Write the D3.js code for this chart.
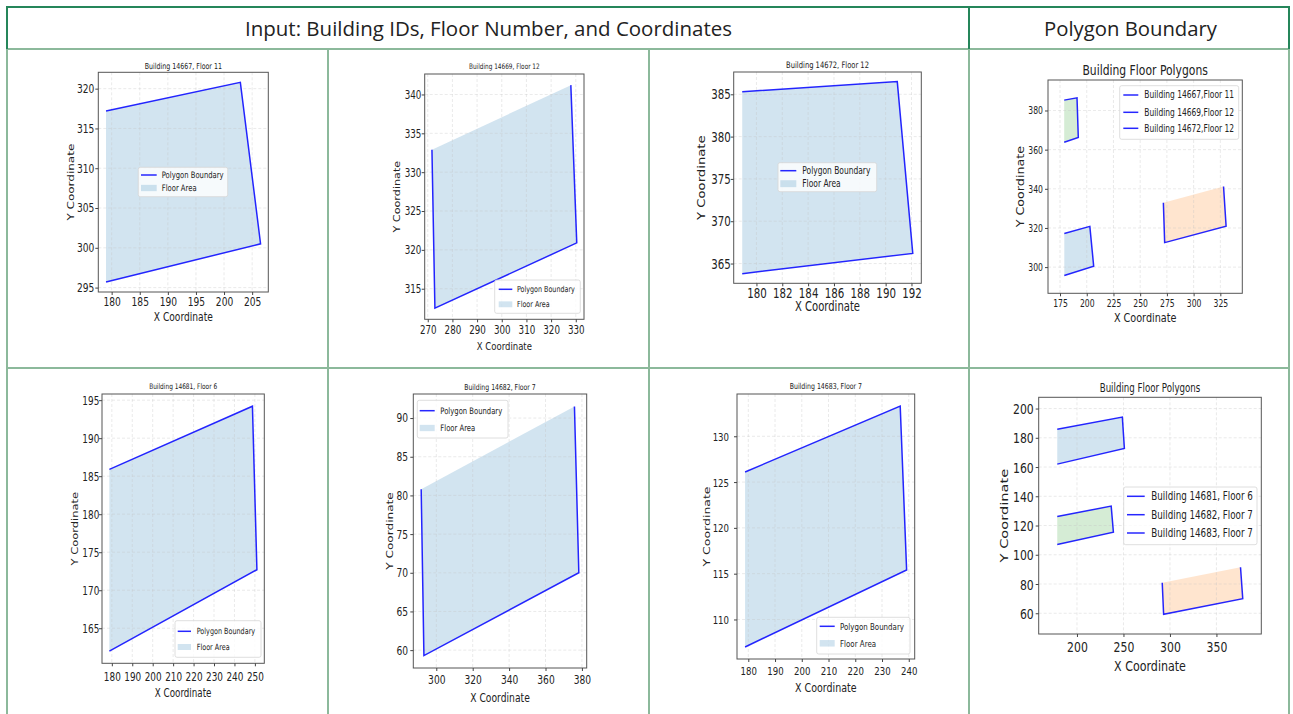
<!DOCTYPE html>
<html>
<head>
<meta charset="utf-8">
<script src="https://cdn.jsdelivr.net/npm/d3@7"></script>
<style>
  body { margin: 0; background: #fff; }
  svg { display: block; }
</style>
</head>
<body>
<svg id="fig" width="1293" height="714"></svg>
<script>
// ---- floor footprints (vertex order as surveyed) ----
const b14667X = [179.0, 202.9, 206.5, 179.0];
const b14667Y = [317.2, 320.8, 300.5, 295.7];
const b14669X = [271.7, 272.9, 330.4, 328.0];
const b14669Y = [332.9, 312.5, 320.9, 341.2];
const b14672X = [178.9, 190.9, 192.1, 178.9];
const b14672Y = [385.3, 386.5, 366.2, 363.8];
const b14681X = [178.8, 248.8, 251.0, 178.8];
const b14681Y = [185.9, 194.2, 172.7, 162.0];
const b14682X = [291.7, 293.2, 378.3, 375.9];
const b14682Y = [80.8, 59.3, 70.0, 91.5];
const b14683X = [178.8, 236.8, 239.2, 178.8];
const b14683Y = [126.1, 133.3, 115.4, 107.0];

const buildingIds = ["14667", "14669", "14672", "14681", "14682", "14683"];
const floorNumbers = [11, 12, 12, 6, 7, 7];

// ---- tick labels ----
const xTicks14667 = [180, 185, 190, 195, 200, 205];
const yTicks14667 = [295, 300, 305, 310, 315, 320];
const xTicks14669 = [270, 280, 290, 300, 310, 320, 330];
const yTicks14669 = [315, 320, 325, 330, 335, 340];
const xTicks14672 = [180, 182, 184, 186, 188, 190, 192];
const yTicks14672 = [365, 370, 375, 380, 385];
const xTicksTopAll = [175, 200, 225, 250, 275, 300, 325];
const yTicksTopAll = [300, 320, 340, 360, 380];
const xTicks14681 = [180, 190, 200, 210, 220, 230, 240, 250];
const yTicks14681 = [165, 170, 175, 180, 185, 190, 195];
const xTicks14682 = [300, 320, 340, 360, 380];
const yTicks14682 = [60, 65, 70, 75, 80, 85, 90];
const xTicks14683 = [180, 190, 200, 210, 220, 230, 240];
const yTicks14683 = [110, 115, 120, 125, 130];
const xTicksBottomAll = [200, 250, 300, 350];
const yTicksBottomAll = [60, 80, 100, 120, 140, 160, 180, 200];

const singleLegend = ["Polygon Boundary", "Floor Area"];
const topLegend = ["Building 14667,Floor 11", "Building 14669,Floor 12", "Building 14672,Floor 12"];
const bottomLegend = ["Building 14681, Floor 6", "Building 14682, Floor 7", "Building 14683, Floor 7"];

const headerLeft = "Input: Building IDs, Floor Number, and Coordinates";
const headerRight = "Polygon Boundary";

// ---- assemble ----
const footprints = {
  "14667": { x: b14667X, y: b14667Y },
  "14669": { x: b14669X, y: b14669Y },
  "14672": { x: b14672X, y: b14672Y },
  "14681": { x: b14681X, y: b14681Y },
  "14682": { x: b14682X, y: b14682Y },
  "14683": { x: b14683X, y: b14683Y }
};
const floorOf = id => floorNumbers[buildingIds.indexOf(id)];

const panels = [
  { ids: ["14667"], xTicks: xTicks14667, yTicks: yTicks14667, pad: 0.05, legend: singleLegend,
    box: { l: 98.3, t: 72.3, r: 268.3, b: 292 }, titleY: 65.7, titleSize: 8.3, tick: 12, label: 12,
    xTickY: 9.7, xLabelY: 316.7, yLabelX: 70.7, yPad: 4,
    lg: { x: 138.3, y: 167.3, w: 89.4, h: 29.4, rows: [175, 188], lx: [141, 156.7], tx: 161.7, size: 9 } },
  { ids: ["14669"], xTicks: xTicks14669, yTicks: yTicks14669, pad: 0.05, legend: singleLegend,
    box: { l: 424.7, t: 74, r: 584, b: 319.3 }, titleY: 66.7, titleSize: 7.6, tick: 11.5, label: 11.2,
    xTickY: 10.7, xLabelY: 345.7, yLabelX: 397, yPad: 3.4,
    lg: { x: 494.7, y: 280, w: 85.6, h: 33.3, rows: [289.3, 304.3], lx: [498.7, 512.3], tx: 517, size: 8.4 } },
  { ids: ["14672"], xTicks: xTicks14672, yTicks: yTicks14672, pad: 0.05, legend: singleLegend,
    box: { l: 733.7, t: 72, r: 921.3, b: 283.3 }, titleY: 65, titleSize: 8.9, tick: 13.5, label: 13.2,
    xTickY: 10, xLabelY: 306.7, yLabelX: 701.3, yPad: 3,
    lg: { x: 778, y: 162.7, w: 98.7, h: 29, rows: [170.7, 183.7], lx: [780.3, 796.3], tx: 802.3, size: 9.9 } },
  { ids: ["14667", "14669", "14672"], xTicks: xTicksTopAll, yTicks: yTicksTopAll, pad: 0.10, legend: topLegend,
    box: { l: 1048, t: 80, r: 1242.3, b: 293.3 }, titleY: 70, titleSize: 14.2, tick: 10.1, label: 12.7,
    xTickY: 10, xLabelY: 318.3, yLabelX: 1021.3, yPad: 5,
    lg: { x: 1119.7, y: 85.7, w: 119, h: 53.6, rows: [95, 112.3, 128.3], lx: [1123.3, 1138.3], tx: 1144.3, size: 9.9 } },
  { ids: ["14681"], xTicks: xTicks14681, yTicks: yTicks14681, pad: 0.05, legend: singleLegend,
    box: { l: 102, t: 394, r: 264.3, b: 663.3 }, titleY: 386.3, titleSize: 7.7, tick: 11.7, label: 11.5,
    xTickY: 13, xLabelY: 693, yLabelX: 75, yPad: 2.7,
    lg: { x: 175, y: 620.7, w: 86, h: 36.6, rows: [631.3, 647], lx: [177.7, 191], tx: 196.7, size: 8.5 } },
  { ids: ["14682"], xTicks: xTicks14682, yTicks: yTicks14682, pad: 0.05, legend: singleLegend,
    box: { l: 413.3, t: 394, r: 586.7, b: 668 }, titleY: 387, titleSize: 8.1, tick: 12, label: 12.1,
    xTickY: 12.3, xLabelY: 698, yLabelX: 389.7, yPad: 5.3,
    lg: { x: 417.3, y: 400.3, w: 90.7, h: 37.7, rows: [410.7, 428], lx: [419.7, 434.7], tx: 440.3, size: 9 } },
  { ids: ["14683"], xTicks: xTicks14683, yTicks: yTicks14683, pad: 0.05, legend: singleLegend,
    box: { l: 737, t: 394, r: 914.7, b: 659 }, titleY: 386.3, titleSize: 8.2, tick: 11.3, label: 12.5,
    xTickY: 12.3, xLabelY: 688, yLabelX: 707.3, yPad: 8,
    lg: { x: 816.7, y: 617.3, w: 93.3, h: 36.7, rows: [626.3, 643.3], lx: [819.7, 834.7], tx: 840, size: 9.3 } },
  { ids: ["14681", "14682", "14683"], xTicks: xTicksBottomAll, yTicks: yTicksBottomAll, pad: 0.10, legend: bottomLegend,
    box: { l: 1038.7, t: 397.3, r: 1261.3, b: 634 }, titleY: 388, titleSize: 11.4, tick: 14.3, label: 14.6,
    xTickY: 13.3, xLabelY: 665.7, yLabelX: 1004, yPad: 5,
    lg: { x: 1123.7, y: 487, w: 133.3, h: 57.7, rows: [496.3, 514.7, 533], lx: [1127, 1144.7], tx: 1151.3, size: 11.5 } }
];

const K = 0.76;                 // horizontal squeeze of the plot lettering
const FONT = "DejaVu Sans";
const fillColors = d3.schemeCategory10;
const svg = d3.select("#fig");

svg.append("rect").attr("width", 1293).attr("height", 714).attr("fill", "#fff");

function label(parent, x, y, str, size, anchor, rotate) {
  return parent.append("text")
    .attr("transform", `translate(${x},${y}) scale(${K},1)` + (rotate ? " rotate(-90)" : ""))
    .attr("text-anchor", anchor || "middle")
    .attr("dominant-baseline", "central")
    .attr("font-family", FONT)
    .attr("font-size", size)
    .attr("fill", "#222")
    .text(str);
}

function padded(values, frac) {
  const [lo, hi] = d3.extent(values);
  const m = (hi - lo) * frac;
  return [lo - m, hi + m];
}

function drawPanel(p) {
  const g = svg.append("g");
  const shapes = p.ids.map(id => footprints[id]);
  const allX = shapes.flatMap(s => s.x);
  const allY = shapes.flatMap(s => s.y);
  const x = d3.scaleLinear().domain(padded(allX, p.pad)).range([p.box.l, p.box.r]);
  const y = d3.scaleLinear().domain(padded(allY, p.pad)).range([p.box.b, p.box.t]);
  const single = p.ids.length === 1;

  // floor areas
  shapes.forEach((s, i) => {
    const pts = s.x.map((v, k) => [x(v), y(s.y[k])]);
    g.append("path")
      .attr("d", d3.line()(pts) + "Z")
      .attr("fill", fillColors[i])
      .attr("fill-opacity", 0.2);
  });

  // dashed grid
  const gridStyle = sel => sel
    .attr("stroke", "#c4c4c4").attr("stroke-opacity", 0.6)
    .attr("stroke-width", 0.6).attr("stroke-dasharray", "3,2");
  g.selectAll(null).data(p.xTicks).join("line")
    .attr("x1", d => x(d)).attr("x2", d => x(d))
    .attr("y1", p.box.t).attr("y2", p.box.b)
    .call(gridStyle);
  g.selectAll(null).data(p.yTicks).join("line")
    .attr("y1", d => y(d)).attr("y2", d => y(d))
    .attr("x1", p.box.l).attr("x2", p.box.r)
    .call(gridStyle);

  // boundaries (open polyline through the vertices)
  shapes.forEach(s => {
    const pts = s.x.map((v, k) => [x(v), y(s.y[k])]);
    g.append("path")
      .attr("d", d3.line()(pts))
      .attr("fill", "none")
      .attr("stroke", "#0000ff")
      .attr("stroke-opacity", 0.85)
      .attr("stroke-width", 1.5);
  });

  // frame
  g.append("rect")
    .attr("x", p.box.l).attr("y", p.box.t)
    .attr("width", p.box.r - p.box.l).attr("height", p.box.b - p.box.t)
    .attr("fill", "none").attr("stroke", "#555").attr("stroke-width", 1);

  // axes
  const ax = g.append("g").attr("transform", `translate(0,${p.box.b})`)
    .call(d3.axisBottom(x).tickValues(p.xTicks).tickSize(3).tickSizeOuter(0));
  ax.select(".domain").remove();
  ax.selectAll("line").attr("stroke", "#444");
  ax.selectAll("text")
    .attr("y", p.xTickY).attr("dy", 0)
    .attr("dominant-baseline", "central")
    .attr("transform", `scale(${K},1)`)
    .attr("font-family", FONT).attr("font-size", p.tick).attr("fill", "#222");

  const ay = g.append("g").attr("transform", `translate(${p.box.l},0)`)
    .call(d3.axisLeft(y).tickValues(p.yTicks).tickSize(3).tickSizeOuter(0));
  ay.select(".domain").remove();
  ay.selectAll("line").attr("stroke", "#444");
  ay.selectAll("text")
    .attr("x", -p.yPad / K).attr("dy", 0)
    .attr("dominant-baseline", "central")
    .attr("transform", `scale(${K},1)`)
    .attr("font-family", FONT).attr("font-size", p.tick).attr("fill", "#222");

  // titles and axis labels
  const cx = (p.box.l + p.box.r) / 2;
  const cy = (p.box.t + p.box.b) / 2;
  const title = single ? `Building ${p.ids[0]}, Floor ${floorOf(p.ids[0])}` : "Building Floor Polygons";
  label(g, cx, p.titleY, title, p.titleSize);
  label(g, cx, p.xLabelY, "X Coordinate", p.label);
  label(g, p.yLabelX, cy, "Y Coordinate", p.label, "middle", true);

  // legend
  const lg = p.lg;
  g.append("rect")
    .attr("x", lg.x).attr("y", lg.y).attr("width", lg.w).attr("height", lg.h)
    .attr("rx", 2).attr("fill", "#fff").attr("fill-opacity", 0.8)
    .attr("stroke", "#d6d6d6").attr("stroke-width", 0.8);
  p.legend.forEach((txt, i) => {
    const ry = lg.rows[i];
    if (single && i === 1) {
      const h = lg.size * 0.7;
      g.append("rect")
        .attr("x", lg.lx[0]).attr("y", ry - h / 2)
        .attr("width", lg.lx[1] - lg.lx[0]).attr("height", h)
        .attr("fill", fillColors[0]).attr("fill-opacity", 0.2);
    } else {
      g.append("line")
        .attr("x1", lg.lx[0]).attr("x2", lg.lx[1]).attr("y1", ry).attr("y2", ry)
        .attr("stroke", "#0000ff").attr("stroke-opacity", 0.85).attr("stroke-width", 1.5);
    }
    label(g, lg.tx, ry, txt, lg.size, "start");
  });
}

panels.forEach(drawPanel);

// ---- table frame ----
const light = "#8cb99b", dark = "#25865a";
const tbl = svg.append("g");
[7, 328, 649, 969, 1289].forEach(xv => {
  tbl.append("line").attr("x1", xv).attr("x2", xv).attr("y1", 49).attr("y2", 714)
    .attr("stroke", light).attr("stroke-width", 2);
});
[49, 368].forEach(yv => {
  tbl.append("line").attr("x1", 7).attr("x2", 1289).attr("y1", yv).attr("y2", yv)
    .attr("stroke", light).attr("stroke-width", 2);
});
tbl.append("path")
  .attr("d", "M7,49 V7 H1289 V49 M969,7 V49")
  .attr("fill", "none").attr("stroke", dark).attr("stroke-width", 2);

tbl.append("text")
  .attr("x", 488.5).attr("y", 28)
  .attr("text-anchor", "middle").attr("dominant-baseline", "central")
  .attr("font-family", "Open Sans").attr("font-size", 20).attr("fill", "#222")
  .attr("textLength", 487).attr("lengthAdjust", "spacingAndGlyphs")
  .text(headerLeft);
tbl.append("text")
  .attr("x", 1130.5).attr("y", 28)
  .attr("text-anchor", "middle").attr("dominant-baseline", "central")
  .attr("font-family", "Open Sans").attr("font-size", 20).attr("fill", "#222")
  .attr("textLength", 173).attr("lengthAdjust", "spacingAndGlyphs")
  .text(headerRight);
</script>
</body>
</html>
